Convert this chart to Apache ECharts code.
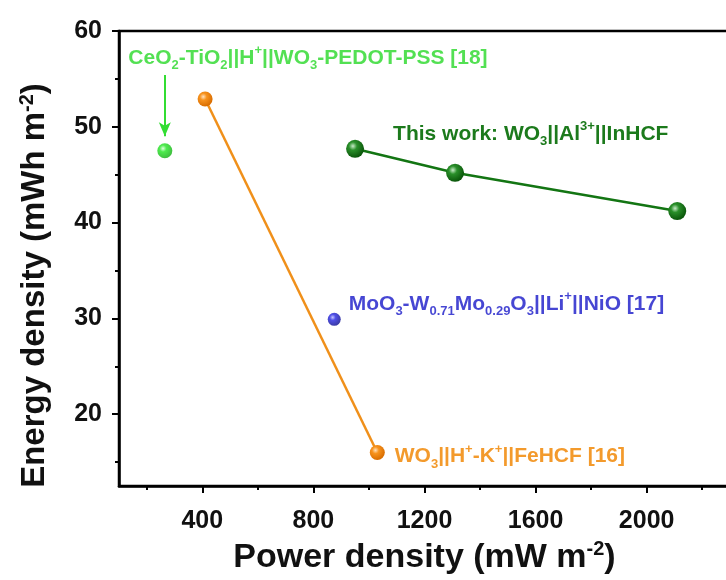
<!DOCTYPE html>
<html>
<head>
<meta charset="utf-8">
<script src="https://cdn.jsdelivr.net/npm/echarts@6/dist/echarts.min.js"></script>
<style>
  html, body { margin: 0; padding: 0; background: #fff; }
  #chart { width: 726px; height: 580px; }
</style>
</head>
<body>
<div id="chart"></div>
<script>
// Power density (mW m^-2) vs energy density (mWh m^-2)
const thisWorkPower = [950, 1310, 2110];
const thisWorkEnergy = [47.7, 45.2, 41.2];

const feHcfPower = [410, 1030];
const feHcfEnergy = [52.9, 16.0];

const nioPower = [875];
const nioEnergy = [29.9];

const pedotPower = [265];
const pedotEnergy = [47.5];

const xMajorTicks = [400, 800, 1200, 1600, 2000];
const xMinorTicks = [200, 600, 1000, 1400, 1800, 2200];
const yMajorTicks = [20, 30, 40, 50, 60];
const yMinorTicks = [15, 25, 35, 45, 55];

const FONT = '"Liberation Sans", Arial, sans-serif';
const LABEL_SIZE = 21;

function zip(xs, ys) { return xs.map((x, i) => [x, ys[i]]); }

function sphere(light, mid, dark) {
  return {
    type: 'radial', x: 0.38, y: 0.35, r: 0.65,
    colorStops: [
      { offset: 0, color: light },
      { offset: 0.35, color: mid },
      { offset: 1, color: dark }
    ]
  };
}

function richStyles(color, size) {
  const small = Math.round(size * 0.62);
  return {
    s: { fontFamily: FONT, fontWeight: 'bold', color: color, fontSize: small, lineHeight: small, verticalAlign: 'bottom' },
    p: { fontFamily: FONT, fontWeight: 'bold', color: color, fontSize: small, lineHeight: small, verticalAlign: 'top' }
  };
}

function pointLabel(text, color, offset) {
  return {
    show: true,
    position: 'right',
    distance: 0,
    offset: offset,
    align: 'left',
    formatter: text,
    color: color,
    fontFamily: FONT,
    fontWeight: 'bold',
    fontSize: LABEL_SIZE,
    lineHeight: 28,
    rich: richStyles(color, LABEL_SIZE)
  };
}

const chart = echarts.init(document.getElementById('chart'), null, { renderer: 'canvas' });

const axisFont = { fontFamily: FONT, fontWeight: 'bold', color: '#111', fontSize: 25 };
const nameRich = {
  p: { fontFamily: FONT, fontWeight: 'bold', color: '#111', fontSize: 20, lineHeight: 16, verticalAlign: 'top' }
};
const plainNumber = v => String(v);

chart.setOption({
  animation: false,
  backgroundColor: '#fff',
  grid: {
    left: 119, top: 31, bottom: 94, right: -4,
    outerBoundsMode: 'none',
    containLabel: false,
    show: true, borderColor: '#000', borderWidth: 2.5, backgroundColor: 'transparent'
  },
  xAxis: [
    {
      type: 'value', min: 100, max: 2300,
      name: 'Power density (mW m{p|-2})',
      nameLocation: 'middle', nameGap: 53,
      nameTextStyle: { fontFamily: FONT, fontWeight: 'bold', color: '#111', fontSize: 34, lineHeight: 38, rich: nameRich },
      axisLine: { show: true, onZero: false, lineStyle: { color: '#000', width: 2.5 } },
      axisTick: { show: true, inside: false, length: 7, lineStyle: { color: '#000', width: 2 }, customValues: xMajorTicks },
      axisLabel: Object.assign({ margin: 23, customValues: xMajorTicks, formatter: plainNumber }, axisFont),
      splitLine: { show: false }
    },
    {
      type: 'value', min: 100, max: 2300, position: 'bottom',
      axisLine: { show: false },
      axisTick: { show: true, inside: false, length: 4, lineStyle: { color: '#000', width: 2 }, customValues: xMinorTicks },
      axisLabel: { show: false },
      splitLine: { show: false }
    }
  ],
  yAxis: [
    {
      type: 'value', min: 12.5, max: 60,
      name: 'Energy density (mWh m{p|-2})',
      nameLocation: 'middle', nameGap: 66,
      nameTextStyle: { fontFamily: FONT, fontWeight: 'bold', color: '#111', fontSize: 33, lineHeight: 36, padding: [0, 54, 0, 0], rich: nameRich },
      axisLine: { show: true, onZero: false, lineStyle: { color: '#000', width: 2.5 } },
      axisTick: { show: true, inside: false, length: 7, lineStyle: { color: '#000', width: 2 }, customValues: yMajorTicks },
      axisLabel: Object.assign({ margin: 17, customValues: yMajorTicks, formatter: plainNumber }, axisFont),
      splitLine: { show: false }
    },
    {
      type: 'value', min: 12.5, max: 60, position: 'left',
      axisLine: { show: false },
      axisTick: { show: true, inside: false, length: 4, lineStyle: { color: '#000', width: 2 }, customValues: yMinorTicks },
      axisLabel: { show: false },
      splitLine: { show: false }
    }
  ],
  series: [
    {
      name: 'WO3||H+-K+||FeHCF',
      type: 'line',
      data: zip(feHcfPower, feHcfEnergy).map((d, i) => i === feHcfPower.length - 1
        ? { value: d, label: pointLabel('WO{s|3}||H{p|+}-K{p|+}||FeHCF [16]', '#f39a2c', [10, 4]) }
        : { value: d }),
      symbol: 'circle', symbolSize: 15,
      lineStyle: { color: '#f0901a', width: 2.5 },
      itemStyle: { color: sphere('#ffe2bf', '#f7931e', '#d96d00'), borderWidth: 0 },
      z: 3
    },
    {
      name: 'This work',
      type: 'line',
      data: zip(thisWorkPower, thisWorkEnergy).map((d, i) => i === 0
        ? { value: d, label: pointLabel('This work: WO{s|3}||Al{p|3+}||InHCF', '#1c7a1c', [29, -15]) }
        : { value: d }),
      symbol: 'circle', symbolSize: 18,
      lineStyle: { color: '#137513', width: 2.5 },
      itemStyle: { color: sphere('#c9ecc9', '#2a8f2a', '#0a560a'), borderWidth: 0 },
      z: 4
    },
    {
      name: 'MoO3-W0.71Mo0.29O3||Li+||NiO',
      type: 'scatter',
      data: zip(nioPower, nioEnergy).map(d => ({
        value: d,
        label: pointLabel('MoO{s|3}-W{s|0.71}Mo{s|0.29}O{s|3}||Li{p|+}||NiO [17]', '#1818c8', [8, -15])
      })),
      symbol: 'circle', symbolSize: 13,
      itemStyle: { color: sphere('#b8b8ff', '#2424e0', '#0a0a90'), borderWidth: 0 },
      z: 4
    },
    {
      name: 'CeO2-TiO2||H+||WO3-PEDOT-PSS',
      type: 'scatter',
      data: zip(pedotPower, pedotEnergy).map(d => ({
        value: d,
        label: pointLabel('CeO{s|2}-TiO{s|2}||H{p|+}||WO{s|3}-PEDOT-PSS [18]', '#28d828', [-44, -93])
      })),
      symbol: 'circle', symbolSize: 15,
      itemStyle: { color: sphere('#d8ffd8', '#22e622', '#10b010'), borderWidth: 0 },
      markLine: {
        silent: true,
        symbol: ['none', 'arrow'],
        symbolSize: [9, 14],
        label: { show: false },
        lineStyle: { color: '#33dd33', width: 2, type: 'solid' },
        data: [[{ coord: [265, 55.4] }, { coord: [265, 49.0] }]]
      },
      z: 4
    }
  ]
});
</script>
</body>
</html>
